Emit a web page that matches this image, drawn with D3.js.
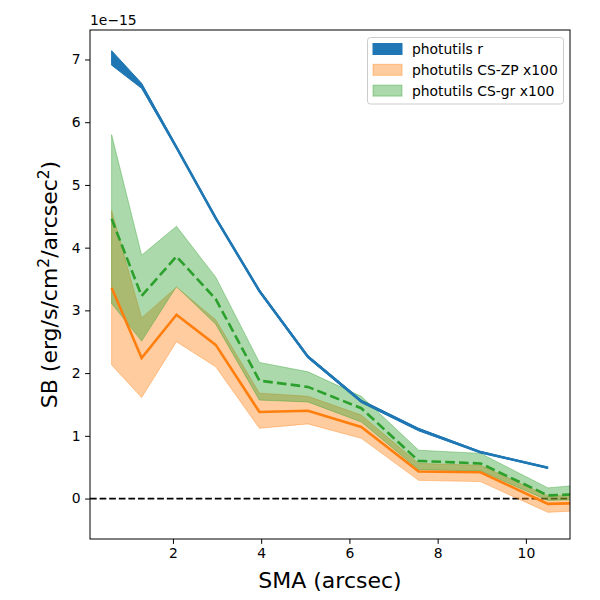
<!DOCTYPE html>
<html>
<head>
<meta charset="utf-8">
<script src="https://cdn.jsdelivr.net/npm/d3@7"></script>
<style>
  body { margin: 0; background: #fff; }
  text { font-family: "DejaVu Sans", sans-serif; }
</style>
</head>
<body>
<script>
// SMA radii (arcsec)
let sma = [0.61, 1.29, 2.08, 2.97, 3.96, 5.06, 6.27, 7.57, 8.97, 10.5, 12.1];

// photutils r (units of 1e-15)
let rMid = [7.01, 6.58, 5.60, 4.47, 3.31, 2.26, 1.55, 1.10, 0.74, 0.49];
let rLo  = [6.91, 6.54, 5.58, 4.45, 3.29, 2.24, 1.53, 1.08, 0.73, 0.48];
let rHi  = [7.14, 6.62, 5.62, 4.49, 3.33, 2.28, 1.57, 1.12, 0.75, 0.50];

// photutils CS-ZP x100
let zpMid = [3.36, 2.24, 2.93, 2.45, 1.38, 1.40, 1.14, 0.43, 0.42, -0.085, -0.06];
let zpLo  = [2.13, 1.61, 2.50, 2.10, 1.12, 1.19, 0.96, 0.29, 0.27, -0.22, -0.16];
let zpHi  = [4.59, 2.88, 3.37, 2.85, 1.68, 1.63, 1.33, 0.56, 0.53, 0.04, 0.07];

// photutils CS-gr x100
let grMid = [4.46, 3.23, 3.86, 3.18, 1.88, 1.78, 1.44, 0.60, 0.56, 0.05, 0.095];
let grLo  = [3.11, 2.51, 3.38, 2.78, 1.57, 1.54, 1.22, 0.46, 0.44, -0.03, 0.0];
let grHi  = [5.80, 3.88, 4.34, 3.53, 2.17, 2.02, 1.63, 0.77, 0.72, 0.17, 0.27];

let xTicks = [2, 4, 6, 8, 10];
let yTicks = [0, 1, 2, 3, 4, 5, 6, 7];
let legendLabels = ['photutils r', 'photutils CS-ZP x100', 'photutils CS-gr x100'];

let W = 600, H = 600;
let m = {top: 30, right: 30, bottom: 61, left: 90};

let svg = d3.select('body').append('svg').attr('width', W).attr('height', H);

let x = d3.scaleLinear().domain([0.12, 11]).range([m.left, W - m.right]);
let y = d3.scaleLinear().domain([-0.645, 7.47]).range([H - m.bottom, m.top]);

svg.append('clipPath').attr('id', 'plotclip')
  .append('rect')
  .attr('x', m.left).attr('y', m.top)
  .attr('width', W - m.left - m.right).attr('height', H - m.top - m.bottom);

let plot = svg.append('g').attr('clip-path', 'url(#plotclip)');

function band(lo, hi) {
  let pts = lo.map((d, i) => ({x: sma[i], lo: d, hi: hi[i]}));
  return d3.area().x(d => x(d.x)).y0(d => y(d.lo)).y1(d => y(d.hi))(pts);
}
function line(vals) {
  let pts = vals.map((d, i) => [sma[i], d]);
  return d3.line().x(d => x(d[0])).y(d => y(d[1]))(pts);
}

// zero line
plot.append('line')
  .attr('x1', m.left).attr('x2', W - m.right)
  .attr('y1', y(0)).attr('y2', y(0))
  .attr('stroke', 'black').attr('stroke-width', 1.8)
  .attr('stroke-dasharray', '6.7,2.9');

// bands
plot.append('path').attr('d', band(rLo, rHi))
  .attr('fill', '#1f77b4').attr('stroke', '#1f77b4').attr('stroke-width', 1);
plot.append('path').attr('d', band(zpLo, zpHi))
  .attr('fill', '#ff7f0e').attr('fill-opacity', 0.4)
  .attr('stroke', '#ff7f0e').attr('stroke-opacity', 0.4).attr('stroke-width', 1);
plot.append('path').attr('d', band(grLo, grHi))
  .attr('fill', '#2ca02c').attr('fill-opacity', 0.4)
  .attr('stroke', '#2ca02c').attr('stroke-opacity', 0.4).attr('stroke-width', 1);

// lines
plot.append('path').attr('d', line(zpMid))
  .attr('fill', 'none').attr('stroke', '#ff7f0e').attr('stroke-width', 2.6);
plot.append('path').attr('d', line(grMid))
  .attr('fill', 'none').attr('stroke', '#2ca02c').attr('stroke-width', 2.6)
  .attr('stroke-dasharray', '9.6,4.2');
plot.append('path').attr('d', line(rMid))
  .attr('fill', 'none').attr('stroke', '#1f77b4').attr('stroke-width', 2.6);

// axes
let xAxis = d3.axisBottom(x).tickValues(xTicks).tickSize(4.9).tickPadding(4.5);
let yAxis = d3.axisLeft(y).tickValues(yTicks).tickSize(4.9).tickPadding(4.5);

let gx = svg.append('g').attr('transform', `translate(0,${H - m.bottom})`).call(xAxis);
let gy = svg.append('g').attr('transform', `translate(${m.left},0)`).call(yAxis);
[gx, gy].forEach(g => {
  g.select('.domain').remove();
  g.selectAll('line').attr('stroke', 'black').attr('stroke-width', 1);
  g.selectAll('text').attr('font-family', 'DejaVu Sans').attr('font-size', '13.9px').attr('fill', 'black');
});

// frame
svg.append('rect')
  .attr('x', m.left).attr('y', m.top)
  .attr('width', W - m.left - m.right).attr('height', H - m.top - m.bottom)
  .attr('fill', 'none').attr('stroke', 'black').attr('stroke-width', 1);

// offset text
svg.append('text').attr('x', m.left).attr('y', m.top - 5)
  .attr('font-size', '13.9px').text('1e\u221215');

// axis labels
svg.append('text')
  .attr('x', (m.left + W - m.right) / 2).attr('y', 588)
  .attr('text-anchor', 'middle').attr('font-size', '22px')
  .text('SMA (arcsec)');

let yl = svg.append('text')
  .attr('transform', `translate(57,${(m.top + H - m.bottom) / 2}) rotate(-90)`)
  .attr('text-anchor', 'middle').attr('font-size', '22px');
yl.append('tspan').text('SB (erg/s/cm');
yl.append('tspan').attr('font-size', '15.4px').attr('dy', -8).text('2');
yl.append('tspan').attr('dy', 8).text('/arcsec');
yl.append('tspan').attr('font-size', '15.4px').attr('dy', -8).text('2');
yl.append('tspan').attr('dy', 8).text(')');

// legend
let leg = svg.append('g');
leg.append('rect')
  .attr('x', 367.5).attr('y', 37.5).attr('width', 196).attr('height', 66.5)
  .attr('rx', 3).attr('fill', 'white').attr('fill-opacity', 0.8)
  .attr('stroke', '#cccccc').attr('stroke-width', 1);

let legStyles = [
  {fill: '#1f77b4', op: 1},
  {fill: '#ff7f0e', op: 0.4},
  {fill: '#2ca02c', op: 0.4}
];
legendLabels.forEach((lab, i) => {
  let cy = 49 + i * 20.8;
  leg.append('rect')
    .attr('x', 373).attr('y', cy - 5.5).attr('width', 29).attr('height', 11)
    .attr('fill', legStyles[i].fill).attr('fill-opacity', legStyles[i].op)
    .attr('stroke', legStyles[i].fill).attr('stroke-opacity', legStyles[i].op);
  leg.append('text')
    .attr('x', 412).attr('y', cy + 5)
    .attr('font-size', '13.9px').text(lab);
});
</script>
</body>
</html>
